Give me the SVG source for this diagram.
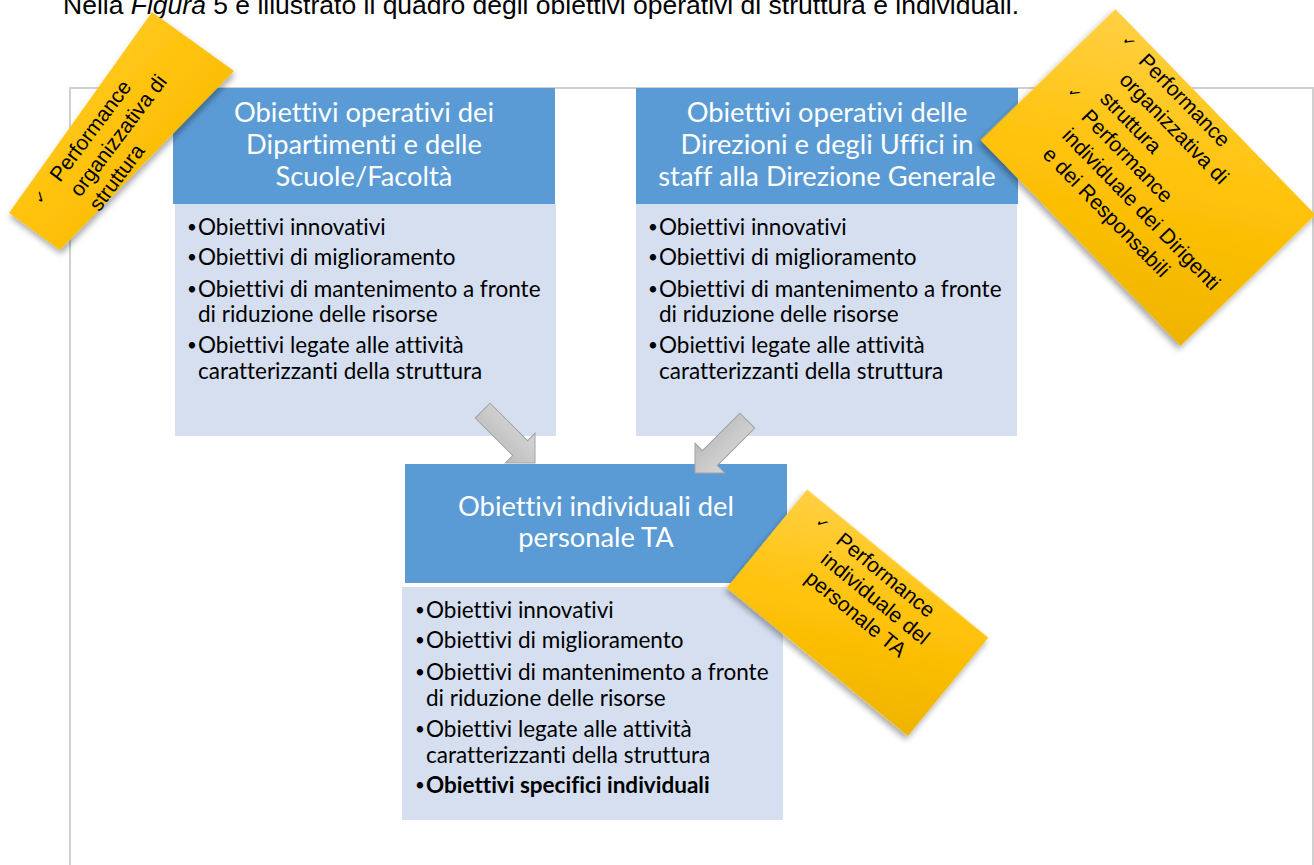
<svg xmlns="http://www.w3.org/2000/svg" width="1314" height="865" viewBox="0 0 1314 865">
<defs>
<style>
.hdr{fill:#5b9bd5}
.body{fill:#d5dff0}
.ht{font-family:Lato,"Open Sans",sans-serif;font-size:27.3px;fill:#ffffff;text-anchor:middle;font-variant-ligatures:none}
.bt{font-family:Lato,"Open Sans",sans-serif;font-size:22.5px;fill:#000000;font-variant-ligatures:none}
.bu{font-size:17px}
.nt{font-family:"Liberation Sans",Arial,sans-serif;font-size:21px;fill:#000000}
.ck{font-family:"DejaVu Sans",sans-serif;font-size:15px;fill:#000000}
.arrow{fill:url(#ag);stroke:#a3a3a3;stroke-width:1}
.note{fill:url(#ng);filter:url(#sh)}
</style>
<linearGradient id="ng" x1="0" y1="0" x2="1" y2="1">
<stop offset="0" stop-color="#ffd044"/>
<stop offset="0.5" stop-color="#ffc208"/>
<stop offset="1" stop-color="#efb400"/>
</linearGradient>
<linearGradient id="ag" x1="0" y1="0" x2="0" y2="1">
<stop offset="0" stop-color="#d6d6d6"/>
<stop offset="1" stop-color="#bcbcbc"/>
</linearGradient>
<filter id="sh" x="-20%" y="-20%" width="140%" height="140%">
<feDropShadow dx="1" dy="4" stdDeviation="3" flood-color="#000" flood-opacity="0.35"/>
</filter>
</defs>
<rect width="1314" height="865" fill="#ffffff"/>
<text x="63" y="14" font-family="'Liberation Sans',Arial,sans-serif" font-size="26.5" fill="#000">Nella <tspan font-style="italic">Figura</tspan> 5 è illustrato il quadro degli obiettivi operativi di struttura e individuali.</text>
<rect id="frame" x="70" y="88" width="1243" height="800" fill="none" stroke="#d0d0d0" stroke-width="2"/>

<g id="box1">
<rect class="body" x="175" y="204" width="381" height="232"/>
<rect class="hdr" x="173" y="88" width="382" height="116"/>
<text class="ht"><tspan x="364" y="122">Obiettivi operativi dei</tspan><tspan x="364" y="154">Dipartimenti e delle</tspan><tspan x="364" y="186">Scuole/Facoltà</tspan></text>
<text class="bt"><tspan class="bu" x="187" y="233">•</tspan><tspan x="198" y="235">Obiettivi innovativi</tspan><tspan class="bu" x="187" y="263">•</tspan><tspan x="198" y="265">Obiettivi di miglioramento</tspan><tspan class="bu" x="187" y="295">•</tspan><tspan x="198" y="297">Obiettivi di mantenimento a fronte</tspan><tspan x="198" y="322">di riduzione delle risorse</tspan><tspan class="bu" x="187" y="351">•</tspan><tspan x="198" y="353">Obiettivi legate alle attività</tspan><tspan x="198" y="379">caratterizzanti della struttura</tspan></text>
</g>

<g id="box2">
<rect class="body" x="636" y="204" width="381" height="232"/>
<rect class="hdr" x="636" y="88" width="382" height="116"/>
<text class="ht"><tspan x="827" y="122">Obiettivi operativi delle</tspan><tspan x="827" y="154">Direzioni e degli Uffici in</tspan><tspan x="827" y="186">staff alla Direzione Generale</tspan></text>
<text class="bt"><tspan class="bu" x="648" y="233">•</tspan><tspan x="659" y="235">Obiettivi innovativi</tspan><tspan class="bu" x="648" y="263">•</tspan><tspan x="659" y="265">Obiettivi di miglioramento</tspan><tspan class="bu" x="648" y="295">•</tspan><tspan x="659" y="297">Obiettivi di mantenimento a fronte</tspan><tspan x="659" y="322">di riduzione delle risorse</tspan><tspan class="bu" x="648" y="351">•</tspan><tspan x="659" y="353">Obiettivi legate alle attività</tspan><tspan x="659" y="379">caratterizzanti della struttura</tspan></text>
</g>

<g id="box3">
<rect class="body" x="402" y="587" width="381" height="233"/>
<rect class="hdr" x="405" y="464" width="382" height="119"/>
<text class="ht"><tspan x="596" y="516">Obiettivi individuali del</tspan><tspan x="596" y="547">personale TA</tspan></text>
<text class="bt"><tspan class="bu" x="415" y="616">•</tspan><tspan x="426" y="618">Obiettivi innovativi</tspan><tspan class="bu" x="415" y="646">•</tspan><tspan x="426" y="648">Obiettivi di miglioramento</tspan><tspan class="bu" x="415" y="678">•</tspan><tspan x="426" y="680">Obiettivi di mantenimento a fronte</tspan><tspan x="426" y="706">di riduzione delle risorse</tspan><tspan class="bu" x="415" y="735">•</tspan><tspan x="426" y="737">Obiettivi legate alle attività</tspan><tspan x="426" y="763">caratterizzanti della struttura</tspan><tspan class="bu" x="415" y="791">•</tspan><tspan x="426" y="793" font-weight="bold">Obiettivi specifici individuali</tspan></text>
</g>

<g id="connectors">
<polygon class="arrow" transform="translate(535,463) rotate(45)" points="-74,-10.5 -21,-10.5 -21,-21 0,0 -21,21 -21,10.5 -74,10.5"/>
<polygon class="arrow" transform="translate(695,473) rotate(135)" points="-74,-10.5 -21,-10.5 -21,-21 0,0 -21,21 -21,10.5 -74,10.5"/>
</g>

<g id="note1">
<polygon class="note" points="152,12 234,71 60,250 9,213"/>
<g transform="translate(60,183) rotate(-53)">
<text class="ck" x="-29" y="-2">✓</text>
<text class="nt"><tspan x="0" y="0">Performance</tspan><tspan x="0" y="25">organizzativa di</tspan><tspan x="0" y="49">struttura</tspan></text>
</g>
</g>

<g id="note2">
<g transform="translate(1148,177.5) rotate(45.8)">
<rect class="note" x="-143.5" y="-94" width="287" height="188"/>
<text class="ck" x="-117" y="-76">✓</text>
<text class="ck" x="-118" y="-1">✓</text>
<text class="nt"><tspan x="-90" y="-73">Performance</tspan><tspan x="-90" y="-46">organizzativa di</tspan><tspan x="-90" y="-19">struttura</tspan><tspan x="-90" y="7">Performance</tspan><tspan x="-90" y="34">individuale dei Dirigenti</tspan><tspan x="-90" y="61">e dei Responsabili</tspan></text>
</g>
</g>

<g id="note3">
<g transform="translate(857.5,612.75) rotate(39.3)">
<rect class="note" x="-117" y="-63.5" width="234" height="127"/>
<text class="ck" x="-90" y="-42">✓</text>
<text class="nt"><tspan x="-62" y="-40">Performance</tspan><tspan x="-62" y="-15.5">individuale del</tspan><tspan x="-62" y="9">personale TA</tspan></text>
</g>
</g>
</svg>
